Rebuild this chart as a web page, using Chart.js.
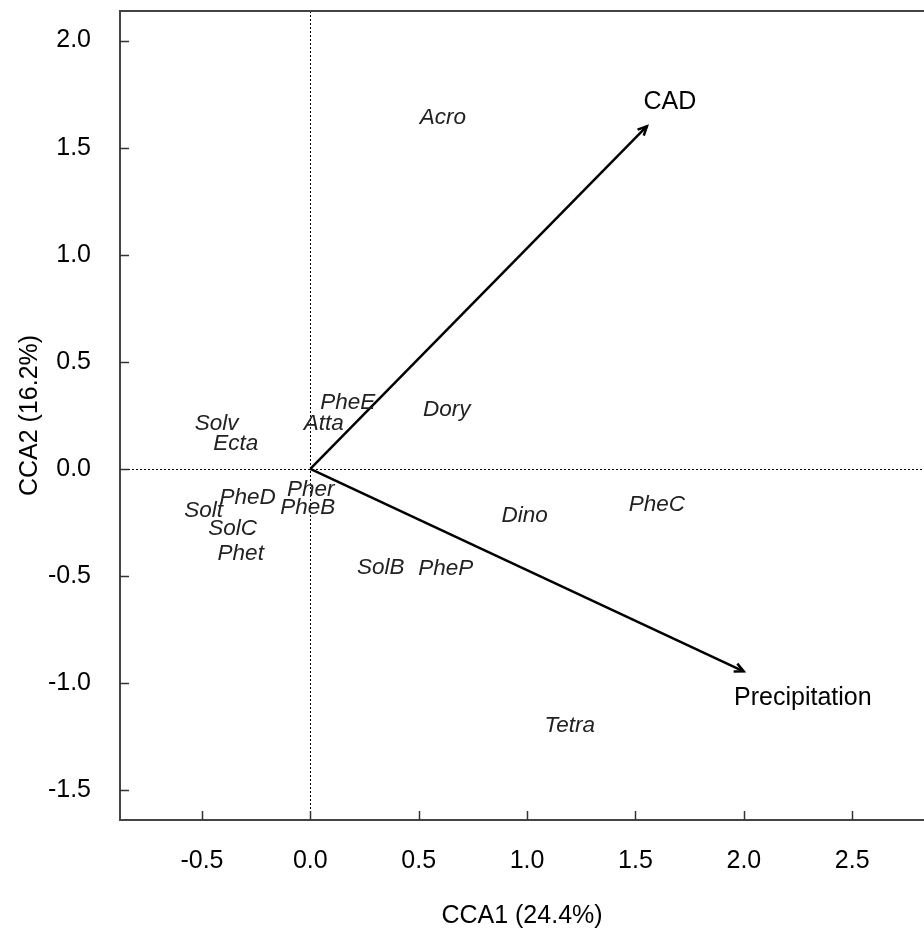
<!DOCTYPE html>
<html><head><meta charset="utf-8">
<script src="https://cdn.jsdelivr.net/npm/chart.js@4"></script>
<style>html,body{margin:0;padding:0;background:#fff;} canvas{display:block;}</style>
</head><body>
<canvas id="c" width="924" height="934"></canvas>
<script>
// ---- data ----
const speciesNames = ['Acro','PheE','Atta','Dory','Solv','Ecta','PheD','Solt','SolC','Phet','Pher','PheB','SolB','PheP','Dino','PheC','Tetra'];
const speciesX = [0.611, 0.173, 0.062, 0.629, -0.432, -0.344, -0.289, -0.492, -0.358, -0.321, 0.002, -0.012, 0.325, 0.625, 0.989, 1.599, 1.197];
const speciesY = [1.638, 0.307, 0.213, 0.275, 0.213, 0.120, -0.133, -0.193, -0.277, -0.394, -0.095, -0.179, -0.459, -0.464, -0.217, -0.165, -1.197];
const envNames = ['CAD', 'Precipitation'];
const envX = [1.553, 1.999];
const envY = [1.600, -0.945];
const envLabelX = [1.659, 2.272];
const envLabelY = [1.713, -1.071];
const xTitle = 'CCA1 (24.4%)';
const yTitle = 'CCA2 (16.2%)';
const xMin = -0.878, xMax = 2.831, yMin = -1.639, yMax = 2.138;

const FONT = '"Liberation Sans", Arial, sans-serif';

const decorPlugin = {
  id: 'decor',
  beforeDatasetsDraw(chart) {
    const ctx = chart.ctx, a = chart.chartArea;
    const xs = chart.scales.x, ys = chart.scales.y;
    ctx.save();
    ctx.strokeStyle = '#000';
    ctx.lineWidth = 1;
    ctx.setLineDash([2, 2]);
    const x0 = Math.round(xs.getPixelForValue(0)) + 0.5;
    const y0 = Math.round(ys.getPixelForValue(0)) + 0.5;
    ctx.beginPath(); ctx.moveTo(x0, a.top); ctx.lineTo(x0, a.bottom); ctx.stroke();
    ctx.beginPath(); ctx.moveTo(a.left, y0); ctx.lineTo(a.right, y0); ctx.stroke();
    ctx.restore();
  },
  afterDatasetsDraw(chart) {
    const ctx = chart.ctx;
    const xs = chart.scales.x, ys = chart.scales.y;
    ctx.save();
    envNames.forEach((n, i) => {
      const meta = chart.getDatasetMeta(i + 1);
      const p0 = meta.data[0], p1 = meta.data[1];
      const ang = Math.atan2(p1.y - p0.y, p1.x - p0.x);
      const L = 10, w = 0.45;
      ctx.strokeStyle = '#000'; ctx.lineWidth = 2.5; ctx.setLineDash([]);
      ctx.beginPath();
      ctx.moveTo(p1.x - L * Math.cos(ang - w), p1.y - L * Math.sin(ang - w));
      ctx.lineTo(p1.x, p1.y);
      ctx.lineTo(p1.x - L * Math.cos(ang + w), p1.y - L * Math.sin(ang + w));
      ctx.stroke();
      ctx.fillStyle = '#000';
      ctx.font = '25px ' + FONT;
      ctx.textAlign = 'center'; ctx.textBaseline = 'middle';
      ctx.fillText(n, xs.getPixelForValue(envLabelX[i]), ys.getPixelForValue(envLabelY[i]));
    });
    const meta = chart.getDatasetMeta(0);
    ctx.font = 'italic 22.5px ' + FONT;
    ctx.fillStyle = '#222';
    ctx.textAlign = 'center'; ctx.textBaseline = 'middle';
    meta.data.forEach((pt, i) => {
      ctx.fillText(speciesNames[i], pt.x, pt.y);
    });
    ctx.restore();
  },
  afterDraw(chart) {
    const ctx = chart.ctx, a = chart.chartArea;
    const xs = chart.scales.x, ys = chart.scales.y;
    ctx.save();
    ctx.strokeStyle = '#333'; ctx.lineWidth = 1.5;
    xs.ticks.forEach(t => {
      const px = Math.round(xs.getPixelForValue(t.value)) + 0.5;
      ctx.beginPath(); ctx.moveTo(px, a.bottom); ctx.lineTo(px, a.bottom - 9); ctx.stroke();
    });
    ys.ticks.forEach(t => {
      const py = Math.round(ys.getPixelForValue(t.value)) + 0.5;
      ctx.beginPath(); ctx.moveTo(a.left, py); ctx.lineTo(a.left + 9, py); ctx.stroke();
    });
    ctx.strokeStyle = '#444'; ctx.lineWidth = 2;
    ctx.beginPath(); ctx.moveTo(a.left, a.top); ctx.lineTo(a.right, a.top); ctx.stroke();
    ctx.restore();
  }
};

new Chart(document.getElementById('c'), {
  type: 'scatter',
  data: {
    datasets: [
      { label: 'species', data: speciesX.map((x, i) => ({ x: x, y: speciesY[i] })), pointRadius: 0, showLine: false },
      ...envNames.map((n, i) => ({
        label: n, data: [{ x: 0, y: 0 }, { x: envX[i], y: envY[i] }],
        showLine: true, borderColor: '#000', borderWidth: 2.5, pointRadius: 0, fill: false
      }))
    ]
  },
  options: {
    responsive: false,
    animation: false,
    layout: { padding: { top: 11, right: 0, left: 0, bottom: 0 } },
    plugins: { legend: { display: false }, tooltip: { enabled: false } },
    scales: {
      x: {
        type: 'linear', min: xMin, max: xMax,
        afterFit(s) { s.height = 114; s.paddingLeft = 0; s.paddingRight = 0; },
        grid: { display: false },
        border: { display: true, color: '#444', width: 2 },
        ticks: { stepSize: 0.5, includeBounds: false, color: '#000', padding: 18,
          font: { family: FONT, size: 25 }, callback: v => v.toFixed(1), maxRotation: 0, autoSkip: false },
        title: { display: true, text: xTitle, color: '#000', font: { family: FONT, size: 25 }, padding: { top: 4, bottom: 3 } }
      },
      y: {
        type: 'linear', min: yMin, max: yMax,
        afterFit(s) { s.width = 120; s.paddingTop = 0; s.paddingBottom = 0; },
        grid: { display: false },
        border: { display: true, color: '#444', width: 2 },
        ticks: { stepSize: 0.5, includeBounds: false, color: '#000', padding: 21,
          font: { family: FONT, size: 25 }, callback: v => v.toFixed(1), autoSkip: false },
        title: { display: true, text: yTitle, color: '#000', font: { family: FONT, size: 25 }, padding: { top: 15, bottom: 0 } }
      }
    }
  },
  plugins: [decorPlugin]
});
</script>
</body></html>
